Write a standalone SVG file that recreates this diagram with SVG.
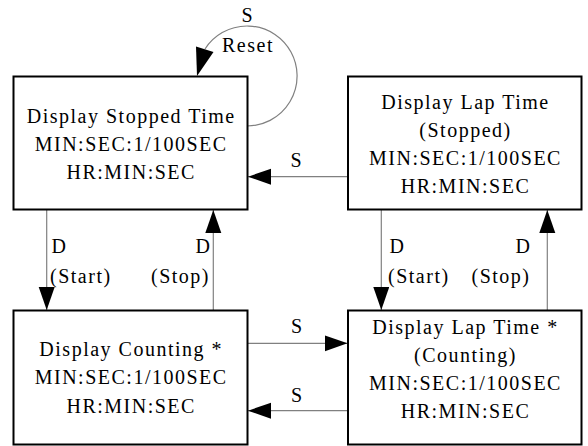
<svg xmlns="http://www.w3.org/2000/svg" width="588" height="446" viewBox="0 0 588 446">
<defs>
<style>
.box{fill:#fff;stroke:#000;stroke-width:2}
.t{font-family:"Liberation Serif","Times New Roman",serif;font-size:20px;letter-spacing:1.5px;fill:#000}
.m{text-anchor:middle}
.e{text-anchor:end}
.ln{fill:none;stroke:#808080;stroke-width:1.2}
</style>
<marker id="ah" markerUnits="userSpaceOnUse" markerWidth="24" markerHeight="17" refX="23" refY="8" orient="auto" viewBox="0 0 24 17">
<path d="M0,0 L23,8 L0,16 z" fill="#000"/>
</marker>
</defs>
<rect width="588" height="446" fill="#fff"/>
<g id="connectors">
<path class="ln" d="M205,49 A50,50 0 1 1 247,126"/>
<polygon points="197,76 196,46.5 213.5,52" fill="#000"/>
<line class="ln" x1="46.7" y1="209.5" x2="46.7" y2="310" marker-end="url(#ah)"/>
<line class="ln" x1="213.3" y1="310.5" x2="213.3" y2="210" marker-end="url(#ah)"/>
<line class="ln" x1="381.3" y1="209.5" x2="381.3" y2="310" marker-end="url(#ah)"/>
<line class="ln" x1="547.3" y1="310.5" x2="547.3" y2="210" marker-end="url(#ah)"/>
<line class="ln" x1="348" y1="176.7" x2="248" y2="176.7" marker-end="url(#ah)"/>
<line class="ln" x1="247.5" y1="343.3" x2="347.5" y2="343.3" marker-end="url(#ah)"/>
<line class="ln" x1="348" y1="410.7" x2="248" y2="410.7" marker-end="url(#ah)"/>
<text class="t" x="241.5" y="21.5">S</text>
<text class="t" x="222" y="51.5">Reset</text>
<text class="t" x="290.5" y="166.5">S</text>
<text class="t" x="291" y="333">S</text>
<text class="t" x="291" y="401.5">S</text>
<text class="t" x="51.5" y="253">D</text>
<text class="t" x="50" y="283">(Start)</text>
<text class="t e" x="211.5" y="253">D</text>
<text class="t e" x="210" y="283">(Stop)</text>
<text class="t" x="389.5" y="253">D</text>
<text class="t" x="388" y="283">(Start)</text>
<text class="t e" x="531.5" y="253">D</text>
<text class="t e" x="530.5" y="283">(Stop)</text>
</g>
<g id="stopped">
<rect class="box" x="13.5" y="76.5" width="234" height="133"/>
<text class="t m" x="131.2" y="122.5">Display Stopped Time</text>
<text class="t m" x="131.2" y="150.5">MIN:SEC:1/100SEC</text>
<text class="t m" x="131.2" y="178.5">HR:MIN:SEC</text>
</g>
<g id="lap-stopped">
<rect class="box" x="348" y="76.5" width="233.5" height="133"/>
<text class="t m" x="465.5" y="108.5">Display Lap Time</text>
<text class="t m" x="465.5" y="136.5">(Stopped)</text>
<text class="t m" x="465.5" y="164.5">MIN:SEC:1/100SEC</text>
<text class="t m" x="465.5" y="192.5">HR:MIN:SEC</text>
</g>
<g id="counting">
<rect class="box" x="13.5" y="310.5" width="234" height="134"/>
<text class="t m" x="131.2" y="356">Display Counting *</text>
<text class="t m" x="131.2" y="384">MIN:SEC:1/100SEC</text>
<text class="t m" x="131.2" y="412.5">HR:MIN:SEC</text>
</g>
<g id="lap-counting">
<rect class="box" x="348" y="310.5" width="233.5" height="134"/>
<text class="t m" x="465.5" y="334">Display Lap Time *</text>
<text class="t m" x="465.5" y="362">(Counting)</text>
<text class="t m" x="465.5" y="390">MIN:SEC:1/100SEC</text>
<text class="t m" x="465.5" y="417.5">HR:MIN:SEC</text>
</g>
</svg>
